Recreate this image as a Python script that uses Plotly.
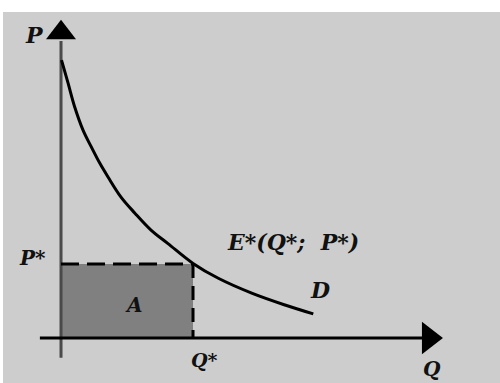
import plotly.graph_objects as go

# Demand curve D (data units)
demand_q = [0.015, 0.212, 0.415, 0.667, 0.918, 1.173, 1.424, 1.818, 2.233,
            2.727, 3.242, 4.0, 4.767, 5.779, 6.788, 7.645]
demand_p = [8.42, 7.73, 7.0, 6.30, 5.79, 5.30, 4.88, 4.27, 3.79,
            3.27, 2.86, 2.26, 1.81, 1.36, 1.0, 0.73]

# Equilibrium
q_star = 4.0
p_star = 2.24

# Axis extents
x_axis_q = [-0.64, 11.2]
y_axis_p = [-0.6, 9.0]
x_tip = 11.15
y_tip = 9.25

# Labels
label_p_axis = "P"
label_q_axis = "Q"
label_p_star = "P*"
label_q_star = "Q*"
label_e = "E*(Q*;  P*)"
label_d = "D"
label_a = "A"

FONT = "DejaVu Serif"

fig = go.Figure()

# Area A
fig.add_shape(type="rect", x0=0, x1=q_star, y0=0, y1=p_star,
              fillcolor="#808080", line=dict(width=0), layer="below")

# Y axis
fig.add_trace(go.Scatter(x=[0, 0], y=y_axis_p, mode="lines",
                         line=dict(color="#4a4a4a", width=3), hoverinfo="skip"))
fig.add_trace(go.Scatter(x=[0], y=[y_tip], mode="markers",
                         marker=dict(symbol="triangle-up", size=26, color="black"), hoverinfo="skip"))
# X axis
fig.add_trace(go.Scatter(x=x_axis_q, y=[0, 0], mode="lines",
                         line=dict(color="black", width=3), hoverinfo="skip"))
fig.add_trace(go.Scatter(x=[x_tip], y=[0], mode="markers",
                         marker=dict(symbol="triangle-right", size=28, color="black"), hoverinfo="skip"))

# Dashed guides
fig.add_trace(go.Scatter(x=[0, q_star], y=[p_star, p_star], mode="lines",
                         line=dict(color="black", width=3, dash="18px,8px"), hoverinfo="skip"))
fig.add_trace(go.Scatter(x=[q_star, q_star], y=[p_star, 0], mode="lines",
                         line=dict(color="black", width=3, dash="14px,8px"), hoverinfo="skip"))

# Demand curve
fig.add_trace(go.Scatter(x=demand_q, y=demand_p, mode="lines",
                         line=dict(color="black", width=3, shape="spline", smoothing=1.0),
                         hoverinfo="skip"))

def label(text, x, y, size):
    fig.add_annotation(x=x, y=y, text="<b><i>" + text + "</i></b>", showarrow=False,
                       font=dict(family=FONT, size=size, color="#111111"),
                       xanchor="center", yanchor="middle")

label(label_p_axis, -0.79, 9.18, 22)
label(label_p_star, -0.85, 2.42, 20)
label(label_e, 7.03, 2.91, 22)
label(label_d, 7.85, 1.45, 22)
label(label_a, 2.2, 0.99, 20)
label(label_q_star, 4.36, -0.67, 19)
label(label_q_axis, 11.24, -0.94, 20)

fig.update_layout(
    width=500, height=383,
    margin=dict(l=3, r=0, t=12, b=0),
    paper_bgcolor="white",
    plot_bgcolor="#cdcdcd",
    showlegend=False,
    xaxis=dict(range=[-1.758, 13.303], visible=False, fixedrange=True),
    yaxis=dict(range=[-1.364, 9.879], visible=False, fixedrange=True),
)

fig.write_html("out.html", config={"displayModeBar": False},
               post_script="document.body.style.margin='0';")
